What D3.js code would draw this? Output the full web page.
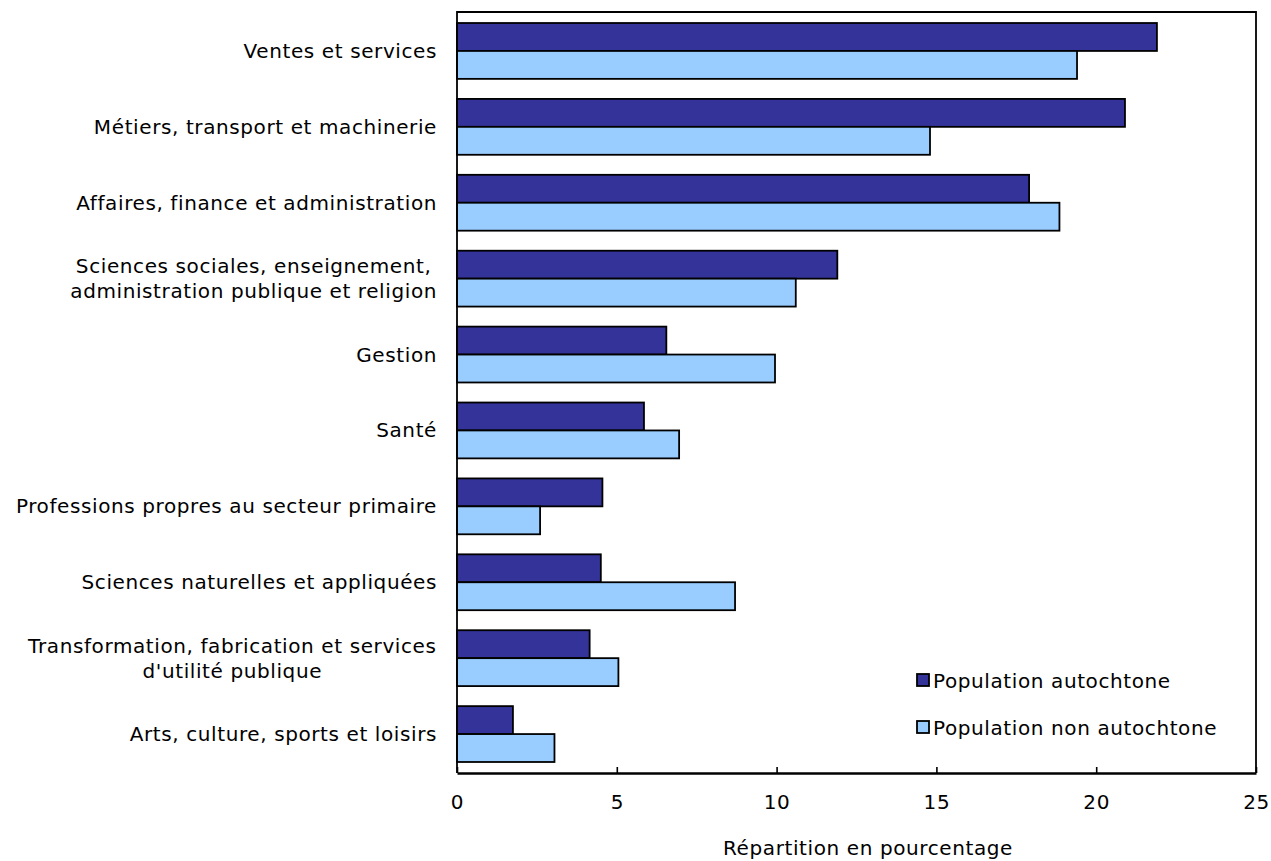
<!DOCTYPE html>
<html>
<head>
<meta charset="utf-8">
<script src="https://cdn.jsdelivr.net/npm/d3@7.9.0/dist/d3.min.js"></script>
<style>
  body { margin: 0; background: #fff; }
  svg { display: block; font-family: "DejaVu Sans", Verdana, sans-serif; letter-spacing: 0.6px; }
</style>
</head>
<body>
<svg width="1271" height="861"></svg>
<script>
// categories, top to bottom (multi-line labels split on '|')
const categories = [
  'Ventes et services',
  'Métiers, transport et machinerie',
  'Affaires, finance et administration',
  'Sciences sociales, enseignement,|administration publique et religion',
  'Gestion',
  'Santé',
  'Professions propres au secteur primaire',
  'Sciences naturelles et appliquées',
  'Transformation, fabrication et services|d\'utilité publique',
  'Arts, culture, sports et loisirs'
];
const autochtone = [21.9, 20.9, 17.9, 11.9, 6.55, 5.85, 4.55, 4.5, 4.15, 1.75];
const nonAutochtone = [19.4, 14.8, 18.85, 10.6, 9.95, 6.95, 2.6, 8.7, 5.05, 3.05];
const seriesNames = ['Population autochtone', 'Population non autochtone'];
const seriesColors = ['#333399', '#99ccff'];
const xTicks = [0, 5, 10, 15, 20, 25];

const svg = d3.select('svg');
const plot = { left: 457, right: 1256, top: 12, bottom: 773 };
const fontSize = 20;

const x = d3.scaleLinear().domain([0, 25]).range([plot.left, plot.right]);
const y = d3.scaleBand().domain(categories).range([plot.top, plot.bottom])
  .paddingInner(0.264).paddingOuter(0.145);
const ySub = d3.scaleBand().domain([0, 1]).range([0, y.bandwidth()]);

const rows = categories.map((c, i) => ({ cat: c, vals: [autochtone[i], nonAutochtone[i]] }));

// bars
const g = svg.append('g');
rows.forEach(r => {
  r.vals.forEach((v, s) => {
    g.append('rect')
      .attr('x', x(0))
      .attr('y', y(r.cat) + ySub(s))
      .attr('width', x(v) - x(0))
      .attr('height', ySub.bandwidth())
      .attr('fill', seriesColors[s])
      .attr('stroke', '#000')
      .attr('stroke-width', 1.8);
  });
});

// frame
svg.append('path')
  .attr('d', `M${plot.left},${plot.bottom}V${plot.top}H${plot.right}V${plot.bottom}`)
  .attr('fill', 'none').attr('stroke', '#000').attr('stroke-width', 1.8);

// x axis, ticks pointing up into the plot
const xAxis = svg.append('g')
  .attr('transform', `translate(0,${plot.bottom})`)
  .call(d3.axisBottom(x).tickValues(xTicks).tickSize(-6).tickPadding(0).tickSizeOuter(0));
xAxis.select('.domain').attr('stroke-width', 2.6);
xAxis.selectAll('.tick line').attr('stroke-width', 1.6);
xAxis.selectAll('.tick text')
  .attr('y', 36).attr('dy', 0)
  .attr('font-size', fontSize).attr('fill', '#000')
  .style('font-family', '"DejaVu Sans", Verdana, sans-serif');

svg.append('text')
  .attr('x', 868).attr('y', 855)
  .attr('text-anchor', 'middle')
  .attr('font-size', fontSize)
  .text('Répartition en pourcentage');

// category labels: block right-aligned, lines centred on each other
rows.forEach(r => {
  const lines = r.cat.split('|');
  const cy = y(r.cat) + y.bandwidth() / 2;
  const t = svg.append('text')
    .attr('font-size', fontSize)
    .attr('text-anchor', 'middle');
  lines.forEach((ln, k) => {
    t.append('tspan')
      .attr('x', 0)
      .attr('y', cy + (k - (lines.length - 1) / 2) * 25)
      .attr('dy', '0.35em')
      .text(ln);
  });
  const w = t.node().getBBox().width;
  t.attr('transform', `translate(${437 - w / 2},0)`);
});

// legend
const legend = svg.append('g').attr('transform', 'translate(917,680)');
seriesNames.forEach((name, i) => {
  const item = legend.append('g').attr('transform', `translate(0,${i * 47})`);
  item.append('rect')
    .attr('x', 0).attr('y', -6).attr('width', 12).attr('height', 12)
    .attr('fill', seriesColors[i]).attr('stroke', '#000').attr('stroke-width', 1.8);
  item.append('text')
    .attr('x', 16).attr('y', 1).attr('dy', '0.35em')
    .attr('font-size', fontSize)
    .text(name);
});
</script>
</body>
</html>
